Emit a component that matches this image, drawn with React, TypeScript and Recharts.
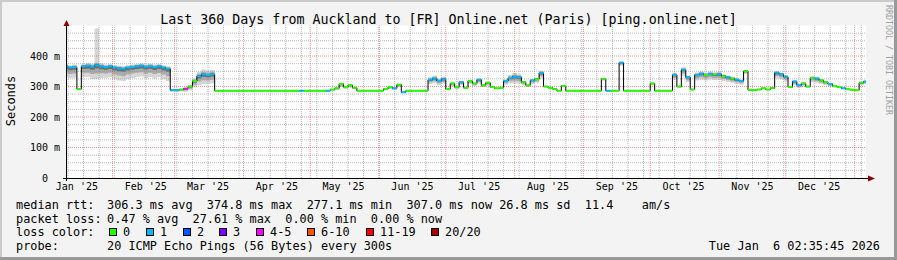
import { ComposedChart, Line, Area, XAxis, YAxis, ReferenceLine } from 'recharts'

// one sample every 2 days, first sample centred on day 10 of 2025 (Jan 11)
const START_DAY = 10
const STEP = 2

// median rtt in ms
const medianMs = [
  366, 362, 364, 292, 366, 368, 365, 370, 366, 364,
  366, 362, 360, 358, 362, 364, 366, 368, 365, 367,
  364, 366, 362, 358, 288, 288, 290, 293, 300, 318,
  334, 340, 338, 340, 286, 286, 286, 286, 286, 286,
  286, 286, 286, 286, 286, 286, 286, 286, 286, 286,
  286, 286, 286, 286, 286, 286, 286, 286, 286, 286,
  290, 294, 308, 298, 304, 296, 286, 286, 286, 286,
  286, 286, 292, 298, 294, 306, 281, 286, 286, 286,
  286, 286, 322, 326, 318, 324, 292, 310, 298, 314,
  296, 318, 310, 322, 304, 312, 298, 294, 296, 318,
  328, 332, 330, 314, 304, 320, 324, 344, 300, 296,
  292, 286, 302, 286, 286, 286, 286, 286, 286, 286,
  286, 325, 286, 286, 286, 378, 286, 286, 286, 286,
  286, 286, 310, 286, 286, 286, 286, 338, 300, 355,
  330, 290, 338, 342, 338, 341, 339, 340, 334, 330,
  326, 322, 318, 350, 289, 288, 290, 294, 290, 295,
  345, 340, 332, 298, 316, 304, 310, 300, 328, 326,
  320, 314, 308, 302, 298, 294, 291, 289, 288, 312,
  316,
]

// loss bucket index per sample (0 = no loss, 1 = one ping lost, ...)
const lossBucket = [
  1, 1, 1, 0, 1, 1, 1, 1, 1, 1,
  1, 1, 1, 1, 1, 1, 1, 1, 1, 1,
  1, 1, 1, 1, 1, 1, 0, 4, 0, 0,
  1, 1, 1, 1, 0, 0, 0, 0, 0, 0,
  0, 0, 0, 0, 0, 0, 0, 0, 0, 0,
  0, 0, 0, 1, 0, 0, 0, 0, 0, 1,
  0, 0, 0, 0, 0, 0, 0, 0, 0, 0,
  0, 0, 0, 0, 1, 0, 1, 0, 0, 0,
  0, 0, 1, 1, 1, 1, 0, 0, 0, 1,
  0, 0, 0, 1, 0, 0, 0, 0, 0, 1,
  1, 1, 1, 0, 0, 1, 0, 1, 0, 0,
  0, 0, 0, 0, 0, 0, 0, 0, 0, 0,
  0, 0, 1, 0, 0, 1, 0, 0, 0, 0,
  0, 0, 0, 0, 0, 0, 0, 1, 0, 1,
  1, 0, 1, 1, 0, 1, 0, 1, 0, 1,
  0, 1, 1, 0, 0, 0, 0, 0, 0, 0,
  1, 1, 1, 0, 1, 1, 0, 0, 0, 1,
  0, 0, 1, 0, 0, 1, 0, 0, 0, 0,
  1,
]

// how far the smoke (spread of the 20 pings) reaches below / above the median, ms
const smokeBelow = [
  35, 35, 35, 4, 35, 38, 40, 45, 38, 35,
  35, 38, 40, 40, 38, 36, 35, 35, 38, 36,
  38, 36, 38, 40, 4, 4, 6, 10, 12, 20,
  30, 32, 30, 30, 0, 0, 0, 0, 0, 0,
  0, 0, 0, 0, 0, 0, 0, 0, 0, 0,
  0, 0, 0, 0, 0, 0, 0, 0, 0, 0,
  3, 5, 10, 6, 8, 5, 0, 0, 0, 0,
  0, 0, 4, 6, 5, 8, 2, 0, 0, 0,
  0, 0, 14, 15, 14, 15, 4, 10, 6, 10,
  4, 10, 8, 12, 6, 8, 4, 2, 3, 12,
  18, 22, 20, 10, 6, 12, 12, 18, 4, 3,
  2, 0, 4, 0, 0, 0, 0, 0, 0, 0,
  0, 6, 0, 0, 0, 10, 0, 0, 0, 0,
  0, 0, 5, 0, 0, 0, 0, 16, 6, 20,
  16, 2, 18, 20, 18, 18, 18, 18, 16, 15,
  14, 14, 12, 10, 2, 0, 2, 3, 2, 3,
  18, 16, 14, 3, 12, 8, 10, 4, 14, 14,
  12, 10, 8, 6, 4, 3, 2, 1, 1, 8,
  8,
]

const smokeAbove = [
  8, 8, 8, 2, 8, 10, 10, 120, 10, 8,
  8, 8, 8, 8, 8, 8, 8, 8, 8, 8,
  8, 8, 8, 8, 2, 2, 3, 4, 5, 8,
  14, 16, 15, 14, 0, 0, 0, 0, 0, 0,
  0, 0, 0, 0, 0, 0, 0, 0, 0, 0,
  0, 0, 0, 0, 0, 0, 0, 0, 0, 0,
  2, 2, 4, 3, 3, 2, 0, 0, 0, 0,
  0, 0, 2, 3, 2, 4, 1, 0, 0, 0,
  0, 0, 8, 10, 8, 8, 2, 4, 3, 4,
  2, 4, 3, 5, 3, 4, 2, 1, 2, 6,
  10, 12, 10, 5, 3, 5, 5, 8, 2, 2,
  1, 0, 2, 0, 0, 0, 0, 0, 0, 0,
  0, 3, 0, 0, 0, 4, 0, 0, 0, 0,
  0, 0, 3, 0, 0, 0, 0, 8, 3, 8,
  6, 1, 8, 8, 8, 8, 8, 8, 6, 6,
  6, 6, 5, 4, 1, 0, 1, 2, 1, 2,
  6, 6, 5, 2, 5, 3, 4, 2, 6, 6,
  5, 4, 3, 3, 2, 2, 1, 1, 1, 4,
  4,
]

const LOSS_COLORS = ['#26ff00', '#00b8ff', '#0059ff', '#7e00ff', '#ff00ff', '#ff5500', '#ff0000', '#a10000']
const LOSS_LABELS = ['0', '1', '2', '3', '4-5', '6-10', '11-19', '20/20']

const MONTH_LABELS = ["Jan '25", "Feb '25", "Mar '25", "Apr '25", "May '25", "Jun '25", "Jul '25", "Aug '25", "Sep '25", "Oct '25", "Nov '25", "Dec '25"]
const MONTH_LABEL_DAYS = [15, 46, 74, 105, 135, 166, 196, 227, 258, 288, 319, 349]
const MONTH_START_DAYS = [31, 59, 90, 120, 151, 181, 212, 243, 273, 304, 334, 365]
const Y_TICKS = [0, 100, 200, 300, 400]

const RTT_LEGEND = '306.3 ms avg  374.8 ms max  277.1 ms min  307.0 ms now 26.8 ms sd  11.4    am/s'
const LOSS_LEGEND = '0.47 % avg  27.61 % max  0.00 % min  0.00 % now'
const PROBE_TEXT = '20 ICMP Echo Pings (56 Bytes) every 300s'
const STAMP_TEXT = 'Tue Jan  6 02:35:45 2026'

const DOMAIN: [number, number] = [10.1, 370.1]
const FONT = '"DejaVu Sans Mono", monospace'
const LEGEND_SIZE = 11.85

// the chart needs each sample as a flat step: left edge, right edge, then a break for the coloured lines
const rows: Record<string, any>[] = []
medianMs.forEach((v, i) => {
  const d = START_DAY + i * STEP
  const lo = smokeBelow[i]
  const hi = smokeAbove[i]
  const base: Record<string, any> = {
    rtt: v,
    smoke: [v - lo, v + hi],
    smokeMid: [v - lo * 0.6, v + Math.min(hi * 0.6, 8)],
    smokeCore: [v - lo * 0.25, v + Math.min(hi * 0.25, 3)],
  }
  const col: Record<string, number | null> = {}
  const gap: Record<string, null> = {}
  LOSS_COLORS.forEach((_, k) => {
    col['l' + k] = lossBucket[i] === k ? v : null
    gap['l' + k] = null
  })
  rows.push({ day: d - STEP / 2, ...base, ...col })
  rows.push({ day: d + STEP / 2, ...base, ...col })
  rows.push({ day: d + STEP / 2, ...base, ...gap })
})

const minorY: number[] = []
for (let v = 25; v < 500; v += 25) if (v % 100 !== 0) minorY.push(v)
const sundays: number[] = []
for (let d = 4; d < DOMAIN[1]; d += 7) if (d > DOMAIN[0]) sundays.push(d)

const GRID = 'rgba(143,143,143,0.6)'
const MGRID = 'rgba(222,48,48,0.5)'

const swatchX = [109, 146, 183, 219, 256, 307, 366, 431]

export default function App() {
  const legendText = (x: number, y: number, t: string, anchor: 'start' | 'end' = 'start') => (
    <text x={x} y={y} textAnchor={anchor} fontSize={LEGEND_SIZE} fill="#000" style={{ whiteSpace: 'pre' }}>
      {t}
    </text>
  )

  return (
    <div style={{ position: 'absolute', left: 0, top: 0, width: 897, height: 260, background: '#f3f3f3' }}>
      <svg width={897} height={260} style={{ position: 'absolute', left: 0, top: 0 }}>
        <rect x={66} y={25.5} width={800} height={152.5} fill="#ffffff" />
        <rect x={0} y={0} width={897} height={2} fill="#cbcbcb" />
        <rect x={0} y={0} width={2} height={260} fill="#cbcbcb" />
        <rect x={0} y={257} width={897} height={3} fill="#999999" />
        <rect x={894} y={0} width={3} height={260} fill="#999999" />
      </svg>
      <div style={{ position: 'absolute', left: 0, top: 0 }}>
        <ComposedChart width={897} height={260} data={rows} margin={{ top: 25.5, right: 31, left: 0, bottom: 62 }}>
          <XAxis
            dataKey="day"
            type="number"
            domain={DOMAIN}
            allowDataOverflow
            ticks={MONTH_LABEL_DAYS}
            interval={0}
            tickFormatter={(v: number) => MONTH_LABELS[MONTH_LABEL_DAYS.indexOf(v)] ?? ''}
            axisLine={false}
            tickLine={false}
            tickSize={0}
            tickMargin={5}
            height={20}
            tick={{ fill: '#000', fontSize: 10, fontFamily: FONT }}
          />
          <YAxis
            type="number"
            domain={[0, 500]}
            allowDataOverflow
            ticks={Y_TICKS}
            interval={0}
            tickFormatter={(v: number) => (v === 0 ? '0\u00a0\u00a0' : `${v} m`)}
            axisLine={false}
            tickLine={false}
            tickSize={0}
            tickMargin={6}
            width={66}
            tick={{ fill: '#000', fontSize: 10, fontFamily: FONT }}
          />
          {minorY.map((v) => (
            <ReferenceLine key={'my' + v} y={v} stroke={GRID} strokeDasharray="1 1" />
          ))}
          {sundays.map((d) => (
            <ReferenceLine key={'sx' + d} x={d} stroke={GRID} strokeDasharray="1 1" />
          ))}
          {Y_TICKS.slice(1).map((v) => (
            <ReferenceLine key={'My' + v} y={v} stroke={MGRID} strokeDasharray="1 1" />
          ))}
          {MONTH_START_DAYS.map((d) => (
            <ReferenceLine key={'Mx' + d} x={d} stroke={MGRID} strokeDasharray="1 1" />
          ))}
          <Area dataKey="smoke" type="linear" stroke="none" fill="#d6d6d6" fillOpacity={1} isAnimationActive={false} />
          <Area dataKey="smokeMid" type="linear" stroke="none" fill="#aaaaaa" fillOpacity={1} isAnimationActive={false} />
          <Area dataKey="smokeCore" type="linear" stroke="none" fill="#6e6e6e" fillOpacity={1} isAnimationActive={false} />
          <Line dataKey="rtt" type="linear" stroke="#000" strokeWidth={1} dot={false} isAnimationActive={false} />
          {LOSS_COLORS.map((c, k) => (
            <Line
              key={c}
              dataKey={'l' + k}
              type="linear"
              stroke={c}
              strokeWidth={2}
              dot={false}
              connectNulls={false}
              isAnimationActive={false}
            />
          ))}
        </ComposedChart>
      </div>
      <svg width={897} height={260} style={{ position: 'absolute', left: 0, top: 0, pointerEvents: 'none' }} fontFamily={FONT}>
        <line x1={66.5} y1={22} x2={66.5} y2={181} stroke="#000" />
        <line x1={63} y1={178.5} x2={870} y2={178.5} stroke="#000" />
        <polygon points="63.5,26 66.5,20 69.5,26" fill="#8b0000" />
        <polygon points="868,175.5 875,178.5 868,181.5" fill="#8b0000" />
        <text x={448.5} y={23.5} textAnchor="middle" fontSize={13.3} fill="#000">
          Last 360 Days from Auckland to [FR] Online.net (Paris) [ping.online.net]
        </text>
        <text transform="translate(15,101) rotate(-90)" textAnchor="middle" fontSize={12} fill="#000">
          Seconds
        </text>
        <text transform="translate(886,5) rotate(90)" fontSize={8.3} fill="#a0a0a0">
          RRDTOOL / TOBI OETIKER
        </text>
        {legendText(16, 209, 'median rtt:')}
        {legendText(107, 209, RTT_LEGEND)}
        {legendText(16, 222.5, 'packet loss:')}
        {legendText(107, 222.5, LOSS_LEGEND)}
        {legendText(16, 236.3, 'loss color:')}
        {LOSS_COLORS.map((c, k) => (
          <g key={'s' + k}>
            <rect x={swatchX[k] + 0.5} y={228.5} width={7} height={7} fill={c} stroke="#000" />
            {legendText(swatchX[k] + 14, 236.3, LOSS_LABELS[k])}
          </g>
        ))}
        {legendText(16, 250, 'probe:')}
        {legendText(107, 250, PROBE_TEXT)}
        {legendText(880, 250, STAMP_TEXT, 'end')}
      </svg>
    </div>
  )
}
